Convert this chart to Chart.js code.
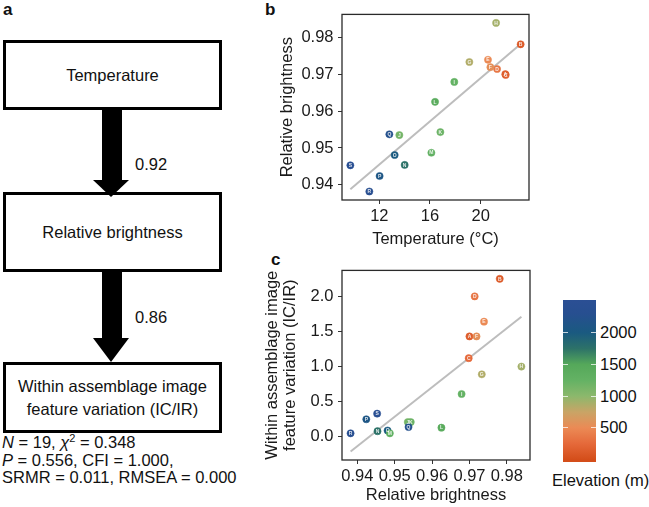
<!DOCTYPE html>
<html><head><meta charset="utf-8">
<script src="https://cdn.jsdelivr.net/npm/chart.js@4"></script>
<style>
html,body{margin:0;padding:0;background:#fff;}
#wrap{position:relative;width:649px;height:507px;overflow:hidden;font-family:'Liberation Sans',Arial,sans-serif;color:#111;}
.box{position:absolute;box-sizing:border-box;border:3px solid #000;display:flex;align-items:center;justify-content:center;text-align:center;font-size:16.5px;line-height:22.5px;}
.plab{position:absolute;font-weight:bold;font-size:17px;line-height:19px;}
.shaft{position:absolute;background:#000;}
.head{position:absolute;width:0;height:0;border-style:solid;border-color:#000 transparent transparent transparent;}
.txt{position:absolute;font-size:16.5px;white-space:nowrap;}
canvas{position:absolute;}
#stats{position:absolute;left:2px;top:434px;font-size:16.5px;line-height:17.5px;white-space:nowrap;}
#stats sup{font-size:11px;line-height:0;vertical-align:6px;}
#cbar{position:absolute;}
.cbtick{position:absolute;height:1px;background:rgba(255,255,255,0.75);width:5px;}
</style></head>
<body>
<div id="wrap">
  <div class="plab" style="left:3px;top:0px;">a</div>
  <div class="plab" style="left:265px;top:0px;">b</div>
  <div class="plab" style="left:271px;top:250px;">c</div>

  <div class="box" style="left:3px;top:40px;width:219px;height:70px;">Temperature</div>
  <div class="shaft" style="left:102px;top:110px;width:20px;height:71px;"></div>
  <div class="head" style="left:93px;top:180px;border-width:17px 18.5px 0 18.5px;"></div>
  <div class="txt" style="left:135px;top:155px;">0.92</div>

  <div class="box" style="left:3px;top:192px;width:219px;height:80px;">Relative brightness</div>
  <div class="shaft" style="left:102px;top:272px;width:20px;height:67px;"></div>
  <div class="head" style="left:93px;top:338px;border-width:24px 18.5px 0 18.5px;"></div>
  <div class="txt" style="left:135px;top:308px;">0.86</div>

  <div class="box" style="left:3px;top:362px;width:219px;height:71px;">Within assemblage image<br>feature variation (IC/IR)</div>

  <div id="stats"><i>N</i> = 19, <i>χ</i><sup>2</sup> = 0.348<br><i>P</i> = 0.556, CFI = 1.000,<br>SRMR = 0.011, RMSEA = 0.000</div>

  <canvas id="cb" width="278" height="256" style="left:262px;top:0px;"></canvas>
  <canvas id="cc" width="278" height="251" style="left:262px;top:256px;"></canvas>

  <div id="cbar"></div>
  <div class="txt" id="cbtitle" style="top:471px;">Elevation (m)</div>
</div>
<script>
// ---------------- data ----------------
const sites       = ['R','P','S','N','O','M','J','K','Q','L','I','C','A','D','F','G','E','B','H'];
const temperature = [11.21,12.02,9.71,14.00,13.21,16.11,13.58,16.82,12.79,16.40,17.92,21.98,21.95,21.30,20.77,19.11,20.58,23.16,21.22];
const brightness  = [0.9382,0.9424,0.9453,0.9454,0.9481,0.9487,0.9535,0.9543,0.9537,0.9625,0.9679,0.9698,0.9700,0.9714,0.9719,0.9733,0.9739,0.9781,0.9839];
const variation   = [0.05,0.25,0.33,0.08,0.09,0.05,0.21,0.21,0.14,0.13,0.61,1.12,1.43,2.00,1.43,0.89,1.64,2.25,1.00];
const elevation   = [2350,2100,2400,1750,2000,1300,1150,1200,2250,1400,1250,250,150,350,550,850,500,120,900];

// fitted regression lines (end points)
const fitTempX   = [9.71, 23.16];
const fitBrightY = [0.9388, 0.9782];
const fitBrightX = [0.9382, 0.9839];
const fitVarY    = [-0.21, 1.71];

// tick labels
const tempTicks   = [12, 16, 20];
const brightTicks = [0.94, 0.95, 0.96, 0.97, 0.98];
const varTicks    = [0.0, 0.5, 1.0, 1.5, 2.0];
const elevTicks   = [500, 1000, 1500, 2000];

// ---------------- style ----------------
const FONT = "'Liberation Sans', Arial, sans-serif";
const cmapStops = [[0,'#d44e1a'],[250,'#e5693a'],[500,'#eb8a55'],[750,'#c9a466'],[1000,'#8cb86c'],[1250,'#64b264'],[1500,'#55a85a'],[1750,'#2d7268'],[2000,'#1a5a80'],[2300,'#274f90'],[2520,'#2b4f94']];
const elevLo = -37, elevHi = 2516;       // colour bar extent
const cbLeft = 563, cbTop = 300, cbW = 33, cbH = 162;

function hex2rgb(h){return [parseInt(h.slice(1,3),16),parseInt(h.slice(3,5),16),parseInt(h.slice(5,7),16)];}
function cmap(e){
  if (e <= cmapStops[0][0]) return cmapStops[0][1];
  for (let i=1;i<cmapStops.length;i++){
    if (e <= cmapStops[i][0]){
      const [e0,c0]=cmapStops[i-1],[e1,c1]=cmapStops[i];
      const t=(e-e0)/(e1-e0), a=hex2rgb(c0), b=hex2rgb(c1);
      return 'rgb('+a.map((v,k)=>Math.round(v+(b[k]-v)*t)).join(',')+')';
    }
  }
  return cmapStops[cmapStops.length-1][1];
}

// colour bar
(function(){
  const bar = document.getElementById('cbar');
  const stops = [];
  stops.push(cmap(elevLo)+' 0%');
  cmapStops.forEach(([e,c])=>{ if(e>=elevLo && e<=elevHi) stops.push(c+' '+((e-elevLo)/(elevHi-elevLo)*100).toFixed(2)+'%'); });
  stops.push(cmap(elevHi)+' 100%');
  Object.assign(bar.style,{left:cbLeft+'px',top:cbTop+'px',width:cbW+'px',height:cbH+'px',background:'linear-gradient(to top,'+stops.join(',')+')'});
  const wrap = document.getElementById('wrap');
  elevTicks.forEach(v=>{
    const y = cbTop + cbH - (v-elevLo)/(elevHi-elevLo)*cbH;
    [0, cbW-5].forEach(dx=>{
      const t=document.createElement('div'); t.className='cbtick';
      t.style.left=(cbLeft+dx)+'px'; t.style.top=(y-0.5)+'px'; wrap.appendChild(t);
    });
    const l=document.createElement('div'); l.className='txt';
    l.textContent=String(v); l.style.left=(cbLeft+cbW+4)+'px'; l.style.top=(y-9.5)+'px'; l.style.lineHeight='19px';
    wrap.appendChild(l);
  });
  const tt=document.getElementById('cbtitle');
  tt.style.left=(600 - 48)+'px';
})();

Chart.defaults.font.family = FONT;
Chart.defaults.font.size = 16.5;
Chart.defaults.color = '#1a1a1a';

const framePlugin = {
  id:'frame',
  afterDatasetsDraw(chart){
    const a=chart.chartArea, ctx=chart.ctx;
    ctx.save(); ctx.strokeStyle='#2a2a2a'; ctx.lineWidth=1.3;
    ctx.strokeRect(a.left, a.top, a.right-a.left, a.bottom-a.top);
    // site letters
    const meta = chart.getDatasetMeta(1);
    ctx.fillStyle='rgba(255,255,255,0.85)';
    ctx.font='bold 5px '+FONT; ctx.textAlign='center'; ctx.textBaseline='middle';
    meta.data.forEach((pt,i)=>{ ctx.fillText(sites[i], pt.x, pt.y+0.3); });
    ctx.restore();
  }
};

const pointColors = elevation.map(e=>cmap(e));

function makeChart(id, xs, ys, fx, fy, xr, yr, xt, yt, xfmt, yfmt, xTitle, yTitle, opt){
  return new Chart(document.getElementById(id), {
    type:'scatter',
    data:{datasets:[
      {data: fx.map((x,i)=>({x, y:fy[i]})), showLine:true, borderColor:'#bdbdbd', borderWidth:2, pointRadius:0, order:2},
      {data: xs.map((x,i)=>({x, y:ys[i]})), backgroundColor:pointColors, borderColor:pointColors, borderWidth:0.5, pointRadius:3.6, order:1}
    ]},
    options:{
      responsive:false, animation:false, devicePixelRatio:1,
      layout:{padding:{left:0, right:opt.padRight, top:opt.padTop, bottom:0}},
      plugins:{legend:{display:false}, tooltip:{enabled:false}},
      scales:{
        x:{type:'linear', min:xr[0], max:xr[1],
           afterBuildTicks:s=>{s.ticks = xt.map(v=>({value:v}));},
           afterFit:s=>{s.height = opt.xH;},
           ticks:{callback:v=>xfmt(v), padding:3, maxRotation:0, autoSkip:false},
           grid:{drawOnChartArea:false, drawTicks:true, tickLength:4, color:'#333', lineWidth:1},
           border:{display:false},
           title:{display:true, text:xTitle, padding:{top:0,bottom:opt.xTitlePad}}},
        y:{type:'linear', min:yr[0], max:yr[1],
           afterBuildTicks:s=>{s.ticks = yt.map(v=>({value:v}));},
           afterFit:s=>{s.width = 80;},
           ticks:{callback:v=>yfmt(v), padding:4.5, autoSkip:false},
           grid:{drawOnChartArea:false, drawTicks:true, tickLength:4, color:'#333', lineWidth:1},
           border:{display:false},
           title:{display:true, text:yTitle, padding:{top:opt.yTitlePad,bottom:0}, font:{size:16.5, lineHeight:1.1}}}
      }
    },
    plugins:[framePlugin]
  });
}

makeChart('cb', temperature, brightness, fitTempX, fitBrightY, [9.05, 23.82], [0.9359, 0.9862],
  tempTicks, brightTicks, v=>String(v), v=>v.toFixed(2), 'Temperature (°C)', 'Relative brightness',
  {padRight:11, padTop:9, xH:56, xTitlePad:7, yTitlePad:16});

makeChart('cc', brightness, variation, fitBrightX, fitVarY, [0.9359, 0.9862], [-0.33, 2.37],
  brightTicks, varTicks, v=>v.toFixed(2), v=>v.toFixed(1), 'Relative brightness', ['Within assemblage image','feature variation (IC/IR)'],
  {padRight:10, padTop:14, xH:47, xTitlePad:2, yTitlePad:1});
</script>
</body></html>
